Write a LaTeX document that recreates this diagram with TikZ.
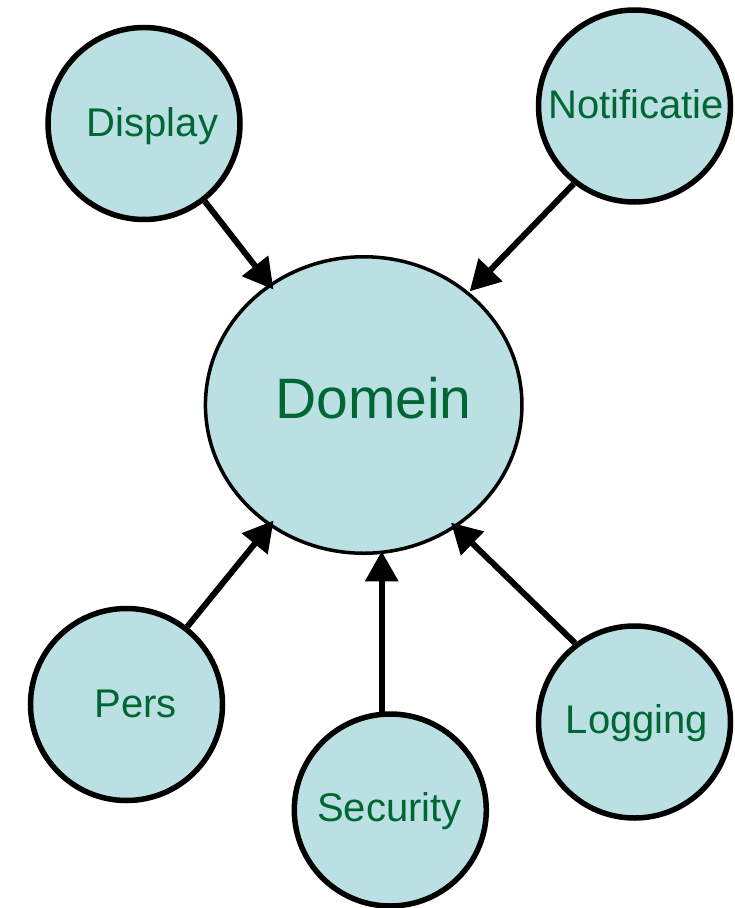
\documentclass[tikz,border=0pt]{standalone}
\usepackage{fontspec}
\setmainfont{Liberation Sans}
\usetikzlibrary{arrows.meta,shapes.geometric}
\definecolor{bubblefill}{RGB}{186,224,227}
\definecolor{labelgreen}{RGB}{0,102,51}
\tikzset{
  module/.style={circle, draw=black, line width=5.5pt, fill=bubblefill,
    minimum size=192pt, inner sep=0pt},
  core/.style={ellipse, draw=black, line width=3.5pt, fill=bubblefill,
    minimum width=316.5pt, minimum height=296.5pt, inner sep=0pt},
  modlabel/.style={anchor=base, text=labelgreen, font=\fontsize{40}{40}\selectfont, inner sep=0pt},
  corelabel/.style={anchor=base, text=labelgreen, font=\fontsize{57}{57}\selectfont, inner sep=0pt},
  dep/.style={line width=6pt, -{Triangle[length=30pt,width=32pt]}}
}
\begin{document}
\begin{tikzpicture}[x=1pt,y=-1pt]
  \useasboundingbox (0,0) rectangle (734,908);
  % components
  \node[core]   (domein)   at (363.7,405) {};
  \node[module] (display)  at (144,123.5) {};
  \node[module] (notif)    at (634.5,106) {};
  \node[module] (pers)     at (126.5,704.5) {};
  \node[module] (security) at (390.3,810) {};
  \node[module] (logging)  at (634.5,722) {};
  % names
  \node[corelabel] (domeintxt)   at (373.5,418)  {Domein};
  \node[modlabel]  (displaytxt)  at (152.5,136)  {Display};
  \node[modlabel]  (notiftxt)    at (636,118)    {Notificatie};
  \node[modlabel]  (perstxt)     at (135.5,717)  {Pers};
  \node[modlabel]  (securitytxt) at (389.5,821)  {Security};
  \node[modlabel]  (loggingtxt)  at (637,733)    {Logging};
  % dependencies on the domain
  \draw[dep, shorten >=-7pt] (display.-52.5) -- (domein.128.1);
  \draw[dep, shorten >=1pt]  (notif.232.5)   -- (domein.47.2);
  \draw[dep, shorten >=-7pt] (pers.52.3)     -- (domein.232.6);
  \draw[dep, shorten >=-3pt] (security.95.5) -- (security.95.5 |- domein.276.7);
  \draw[dep, shorten >=-7pt] (logging.127.1) -- (domein.307.6);
\end{tikzpicture}
\end{document}
